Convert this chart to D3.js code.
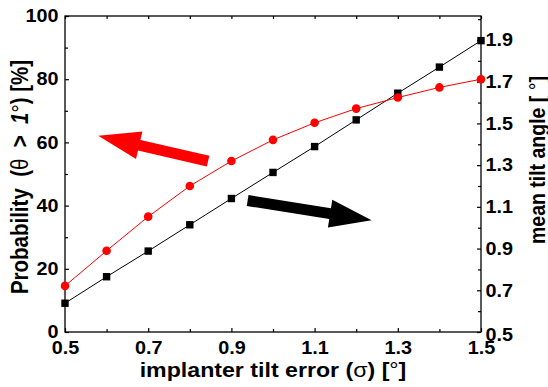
<!DOCTYPE html>
<html>
<head>
<meta charset="utf-8">
<script src="https://cdn.jsdelivr.net/npm/d3@7"></script>
<style>
  body { margin: 0; background: #fff; }
  text { font-family: "Liberation Sans", Arial, sans-serif; font-weight: bold; fill: #000; white-space: pre; }
</style>
</head>
<body>
<div id="chart"></div>
<script>
// tilt error sigma [deg]
var sigma = [0.5, 0.6, 0.7, 0.8, 0.9, 1.0, 1.1, 1.2, 1.3, 1.4, 1.5];
// probability theta > 1 deg [%]  (left axis, red)
var probability = [14.6, 25.7, 36.5, 46.2, 54.1, 60.8, 66.2, 70.7, 74.2, 77.4, 80.0];
// mean tilt angle [deg]  (right axis, black)
var meanTilt = [0.638, 0.765, 0.888, 1.014, 1.140, 1.265, 1.389, 1.517, 1.645, 1.770, 1.897];

var xTicks = [0.5, 0.7, 0.9, 1.1, 1.3, 1.5];
var xMinor = [0.6, 0.8, 1.0, 1.2, 1.4];
var yLeftTicks = [0, 20, 40, 60, 80, 100];
var yLeftMinor = [10, 30, 50, 70, 90];
var yRightTicks = [0.5, 0.7, 0.9, 1.1, 1.3, 1.5, 1.7, 1.9];
var yRightMinor = [0.6, 0.8, 1.0, 1.2, 1.4, 1.6, 1.8, 2.0];

// annotation arrows, in bottom/left axis units
var arrowTails = [[0.844, 54.05], [0.939, 41.6]];
var arrowTips = [[0.580, 62.1], [1.237, 35.4]];
var arrowColors = ["#ff0000", "#000000"];

var W = 548, H = 387;
var plotL = 65, plotR = 481, plotT = 16, plotB = 332;

var svg = d3.select("#chart").append("svg")
    .attr("width", W).attr("height", H);

var x = d3.scaleLinear().domain([0.5, 1.5]).range([plotL, plotR]);
var yL = d3.scaleLinear().domain([0, 100]).range([plotB, plotT]);
var yR = d3.scaleLinear().domain([0.5, 2.015]).range([plotB, plotT]);

// frame
svg.append("rect")
    .attr("x", plotL).attr("y", plotT)
    .attr("width", plotR - plotL).attr("height", plotB - plotT)
    .attr("fill", "none").attr("stroke", "#000").attr("stroke-width", 1.3);

function styleAxis(g) {
    g.select(".domain").remove();
    g.selectAll(".tick line").attr("stroke", "#000").attr("stroke-width", 1.2);
    g.selectAll(".tick text").style("font-size", "18px").attr("fill", "#000")
        .attr("transform", "scale(1.1,1)");
}

// bottom axis
var gx = svg.append("g").attr("transform", "translate(0," + plotB + ")")
    .call(d3.axisBottom(x).tickValues(xTicks).tickSize(-4).tickPadding(9).tickFormat(d3.format(".1f")));
styleAxis(gx);
svg.append("g").attr("transform", "translate(0," + plotB + ")")
    .call(d3.axisBottom(x).tickValues(xMinor).tickSize(-3).tickFormat(""))
    .call(styleAxis);

// top ticks
svg.append("g").attr("transform", "translate(0," + plotT + ")")
    .call(d3.axisTop(x).tickValues(xTicks.concat(xMinor)).tickSize(-3).tickFormat(""))
    .call(styleAxis);

// left axis
var gyl = svg.append("g").attr("transform", "translate(" + plotL + ",0)")
    .call(d3.axisLeft(yL).tickValues(yLeftTicks).tickSize(-4).tickPadding(6));
styleAxis(gyl);
svg.append("g").attr("transform", "translate(" + plotL + ",0)")
    .call(d3.axisLeft(yL).tickValues(yLeftMinor).tickSize(-3).tickFormat(""))
    .call(styleAxis);

// right axis
var gyr = svg.append("g").attr("transform", "translate(" + plotR + ",0)")
    .call(d3.axisRight(yR).tickValues(yRightTicks).tickSize(-4).tickPadding(4).tickFormat(d3.format(".1f")));
styleAxis(gyr);
gyr.selectAll(".tick").filter(function(d) { return d == 0.5; }).select("text").attr("dy", "0.45em");
svg.append("g").attr("transform", "translate(" + plotR + ",0)")
    .call(d3.axisRight(yR).tickValues(yRightMinor).tickSize(-3).tickFormat(""))
    .call(styleAxis);

// series
var probLine = d3.line().x(function(d, i) { return x(sigma[i]); }).y(function(d) { return yL(d); });
var tiltLine = d3.line().x(function(d, i) { return x(sigma[i]); }).y(function(d) { return yR(d); });

svg.append("path").datum(meanTilt).attr("d", tiltLine)
    .attr("fill", "none").attr("stroke", "#000").attr("stroke-width", 1);
svg.append("path").datum(probability).attr("d", probLine)
    .attr("fill", "none").attr("stroke", "#ff0000").attr("stroke-width", 1);

svg.selectAll(".sq").data(meanTilt).enter().append("rect")
    .attr("class", "sq")
    .attr("x", function(d, i) { return x(sigma[i]) - 3.7; })
    .attr("y", function(d) { return yR(d) - 3.7; })
    .attr("width", 7.4).attr("height", 7.4)
    .attr("fill", "#000");

svg.selectAll(".dot").data(probability).enter().append("circle")
    .attr("class", "dot")
    .attr("cx", function(d, i) { return x(sigma[i]); })
    .attr("cy", function(d) { return yL(d); })
    .attr("r", 4.3)
    .attr("fill", "#ff0000");

// arrows
function arrowPath(tail, tip) {
    var x0 = x(tail[0]), y0 = yL(tail[1]), x1 = x(tip[0]), y1 = yL(tip[1]);
    var dx = x1 - x0, dy = y1 - y0, len = Math.sqrt(dx * dx + dy * dy);
    var ux = dx / len, uy = dy / len, nx = -uy, ny = ux;
    var sw = 5.5, hw = 14, hl = 42;
    var bx = x1 - ux * hl, by = y1 - uy * hl;
    var pts = [
        [x0 + nx * sw, y0 + ny * sw],
        [bx + nx * sw, by + ny * sw],
        [bx + nx * hw, by + ny * hw],
        [x1, y1],
        [bx - nx * hw, by - ny * hw],
        [bx - nx * sw, by - ny * sw],
        [x0 - nx * sw, y0 - ny * sw]
    ];
    return "M" + pts.map(function(p) { return p[0] + "," + p[1]; }).join("L") + "Z";
}
for (var i = 0; i < arrowTails.length; i++) {
    svg.append("path").attr("d", arrowPath(arrowTails[i], arrowTips[i])).attr("fill", arrowColors[i]);
}

// axis titles
var xt = svg.append("text")
    .attr("transform", "translate(" + ((plotL + plotR) / 2) + ",377) scale(1.13,1)")
    .attr("text-anchor", "middle").style("font-size", "20.5px");
xt.append("tspan").text("implanter tilt error (");
xt.append("tspan").style("font-weight", "normal").text("σ");
xt.append("tspan").text(") [");
xt.append("tspan").style("font-weight", "normal").text("°");
xt.append("tspan").text("]");

var yt = svg.append("text")
    .attr("transform", "translate(28,177) rotate(-90) scale(1,1.15)")
    .attr("text-anchor", "middle").style("font-size", "20.5px");
yt.append("tspan").text("Probability  (");
yt.append("tspan").style("font-weight", "normal").text("θ");
yt.append("tspan").text("  >  ");
yt.append("tspan").style("font-style", "italic").text("1");
yt.append("tspan").style("font-weight", "normal").text("°");
yt.append("tspan").text(") [%]");

var rt = svg.append("text")
    .attr("transform", "translate(545,160) rotate(-90) scale(1,1.15)")
    .attr("text-anchor", "middle").style("font-size", "19.5px");
rt.append("tspan").text("mean tilt angle [ ");
rt.append("tspan").style("font-weight", "normal").text("°");
rt.append("tspan").text("]");
</script>
</body>
</html>
